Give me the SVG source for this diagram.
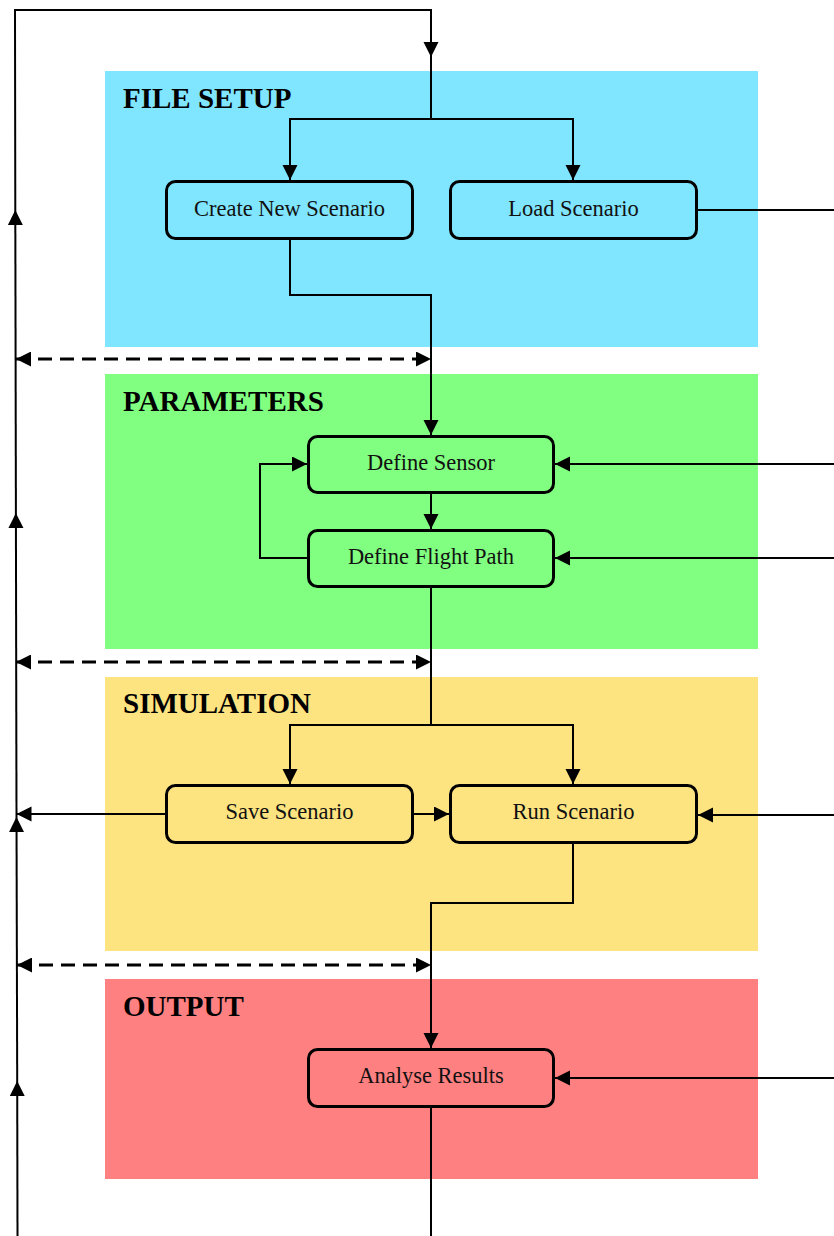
<svg xmlns="http://www.w3.org/2000/svg" width="834" height="1236" viewBox="0 0 834 1236">
<style>
.panel{stroke:none}
.title{font-family:"Liberation Serif",serif;font-weight:bold;font-size:29px;fill:#000}
.box{stroke:#000;stroke-width:3}
.lbl{font-family:"Liberation Serif",serif;font-size:22.5px;fill:#111;text-anchor:middle}
.c{fill:none;stroke:#000;stroke-width:2}
.d{fill:none;stroke:#000;stroke-width:3;stroke-dasharray:14 8}
</style>
<defs>
<marker id="ah" markerUnits="userSpaceOnUse" markerWidth="17" markerHeight="16" refX="15" refY="7.5" orient="auto">
<path d="M0,0 L15,7.5 L0,15 z" fill="#000"/>
</marker>
<marker id="as" markerUnits="userSpaceOnUse" markerWidth="17" markerHeight="16" refX="0" refY="7.5" orient="auto">
<path d="M15,0 L0,7.5 L15,15 z" fill="#000"/>
</marker>
</defs>
<rect width="834" height="1236" fill="#fff"/>
<g id="panel-file-setup">
<rect class="panel" x="105" y="71" width="653" height="276" fill="#80E5FF"/>
<text class="title" x="123" y="108">FILE SETUP</text>
</g>
<g id="panel-parameters">
<rect class="panel" x="105" y="374" width="653" height="275" fill="#80FF80"/>
<text class="title" x="123" y="411">PARAMETERS</text>
</g>
<g id="panel-simulation">
<rect class="panel" x="105" y="677" width="653" height="274" fill="#FDE480"/>
<text class="title" x="123" y="713">SIMULATION</text>
</g>
<g id="panel-output">
<rect class="panel" x="105" y="979" width="653" height="200" fill="#FF8080"/>
<text class="title" x="123" y="1016">OUTPUT</text>
</g>
<g id="connectors">
<path class="c" d="M17.5,1236 L17.2,1081" marker-end="url(#ah)"/>
<path class="c" d="M17.2,1081 L16.5,817" marker-end="url(#ah)"/>
<path class="c" d="M16.5,817 L15.9,513" marker-end="url(#ah)"/>
<path class="c" d="M15.9,513 L15.3,210" marker-end="url(#ah)"/>
<path class="c" d="M15.3,210 L15,10 L431,10 L431,57" marker-end="url(#ah)"/>
<path class="c" d="M431,57 L431,119"/>
<path class="c" d="M431,119 L290,119 L290,180" marker-end="url(#ah)"/>
<path class="c" d="M431,119 L573,119 L573,180" marker-end="url(#ah)"/>
<path class="c" d="M697,210 L834,210"/>
<path class="c" d="M290,238 L290,295 L431,295 L431,435" marker-end="url(#ah)"/>
<path class="d" d="M16,359 L431,359" marker-start="url(#as)" marker-end="url(#ah)"/>
<path class="c" d="M431,493 L431,529" marker-end="url(#ah)"/>
<path class="c" d="M308,558 L260,558 L260,464 L307,464" marker-end="url(#ah)"/>
<path class="c" d="M834,464 L555,464" marker-end="url(#ah)"/>
<path class="c" d="M834,558 L555,558" marker-end="url(#ah)"/>
<path class="c" d="M431,587 L431,725"/>
<path class="d" d="M16,662 L431,662" marker-start="url(#as)" marker-end="url(#ah)"/>
<path class="c" d="M431,725 L290,725 L290,784" marker-end="url(#ah)"/>
<path class="c" d="M431,725 L573,725 L573,784" marker-end="url(#ah)"/>
<path class="c" d="M166,814 L16.5,814" marker-end="url(#ah)"/>
<path class="c" d="M413,814 L449,814" marker-end="url(#ah)"/>
<path class="c" d="M834,815 L698,815" marker-end="url(#ah)"/>
<path class="c" d="M573,843 L573,903 L431,903 L431,1048" marker-end="url(#ah)"/>
<path class="d" d="M17,965 L431,965" marker-start="url(#as)" marker-end="url(#ah)"/>
<path class="c" d="M834,1078 L555,1078" marker-end="url(#ah)"/>
<path class="c" d="M431,1107 L431,1236"/>
</g>
<g id="node-create-new-scenario">
<rect class="box" x="166.5" y="181.5" width="246" height="57" rx="9" fill="#80E5FF"/>
<text class="lbl" x="289.5" y="216">Create New Scenario</text>
</g>
<g id="node-load-scenario">
<rect class="box" x="450.5" y="181.5" width="246" height="57" rx="9" fill="#80E5FF"/>
<text class="lbl" x="573.5" y="216">Load Scenario</text>
</g>
<g id="node-define-sensor">
<rect class="box" x="308.5" y="436.5" width="245" height="56" rx="9" fill="#80FF80"/>
<text class="lbl" x="431" y="470">Define Sensor</text>
</g>
<g id="node-define-flight-path">
<rect class="box" x="308.5" y="530.5" width="245" height="56" rx="9" fill="#80FF80"/>
<text class="lbl" x="431" y="564">Define Flight Path</text>
</g>
<g id="node-save-scenario">
<rect class="box" x="166.5" y="785.5" width="246" height="57" rx="9" fill="#FDE480"/>
<text class="lbl" x="289.5" y="819">Save Scenario</text>
</g>
<g id="node-run-scenario">
<rect class="box" x="450.5" y="785.5" width="246" height="57" rx="9" fill="#FDE480"/>
<text class="lbl" x="573.5" y="819">Run Scenario</text>
</g>
<g id="node-analyse-results">
<rect class="box" x="308.5" y="1049.5" width="245" height="57" rx="9" fill="#FF8080"/>
<text class="lbl" x="431" y="1083">Analyse Results</text>
</g>
</svg>
